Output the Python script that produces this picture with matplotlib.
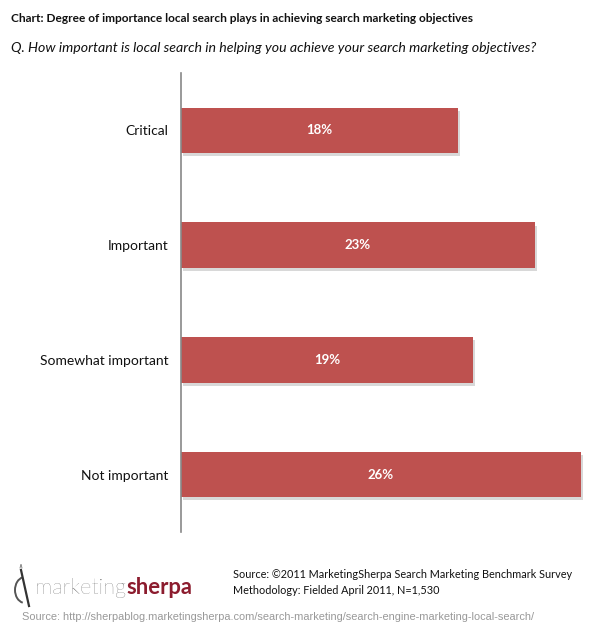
import matplotlib
matplotlib.use("Agg")
import matplotlib.pyplot as plt
import matplotlib.patheffects as pe
from matplotlib.patches import Arc

# data
categories = ["Critical", "Important", "Somewhat important", "Not important"]
shares = [18, 23, 19, 26]
bar_labels = ["18%", "23%", "19%", "26%"]

W, H = 603, 636
fig = plt.figure(figsize=(W / 100, H / 100), dpi=100)

# axes: vertical axis line at x=181, from y=73 to y=532 (pixel coords, top origin)
ax = fig.add_axes([181 / W, 1 - 532 / H, 409 / W, (532 - 73) / H])
bar_color = "#BE514F"
ypos = list(range(len(categories)))
bars = ax.barh(ypos, shares, height=0.395, color=bar_color, edgecolor="none")
for b in bars:
    b.set_path_effects([pe.SimplePatchShadow(offset=(1.2, -2.2), shadow_rgbFace="#909090", alpha=0.35),
                        pe.Normal()])

ax.set_ylim(3.5, -0.5)
ax.set_xlim(0, 26 * 409 / 400)
for s in ["top", "right", "bottom"]:
    ax.spines[s].set_visible(False)
ax.spines["left"].set_color("#888888")
ax.spines["left"].set_linewidth(1.2)
ax.set_xticks([])
ax.set_yticks(ypos)
ax.set_yticklabels(categories, fontfamily="Lato", fontsize=10, color="#111111")
ax.tick_params(axis="y", length=0, pad=9)

for b, lab in zip(bars, bar_labels):
    ax.text(b.get_width() / 2, b.get_y() + b.get_height() / 2, lab,
            ha="center", va="center", color="white", fontsize=9.5,
            fontweight="bold", fontfamily="Lato")

# title and question
fig.text(11 / W, 1 - 19 / H, "Chart: Degree of importance local search plays in achieving search marketing objectives",
         ha="left", va="center", fontfamily="Lato", fontweight="bold", fontsize=8.6, color="#111111")
fig.text(11 / W, 1 - 48 / H, "Q. How important is local search in helping you achieve your search marketing objectives?",
         ha="left", va="center", fontfamily="Lato", fontstyle="italic", fontsize=10.2, color="#111111")

# logo: "sherpa" placed right after "marketing"
t1 = fig.text(35 / W, 1 - 588 / H, "marketing", ha="left", va="center", fontfamily="Lato",
              fontweight="light", fontsize=15.8, color="#4a4a4a")
fig.canvas.draw()
x_end = t1.get_window_extent().x1
fig.text(x_end / W, 1 - 588 / H, "sherpa", ha="left", va="center", fontfamily="Lato",
         fontweight="bold", fontsize=15.8, color="#8C1C2E")
lax = fig.add_axes([12 / W, 1 - 608 / H, 24 / W, 44 / H])
lax.set_xlim(0, 24)
lax.set_ylim(0, 44)
lax.axis("off")
lax.add_patch(Arc((13, 18), 20, 26, theta1=100, theta2=260, color="#555555", lw=1.4))
lax.plot([9, 17], [38, 2], color="#333333", lw=1.6)
lax.plot([8, 9, 10], [40, 44, 40], color="#777777", lw=0.6)

# source block
fig.text(233 / W, 1 - 575 / H, "Source: \u00a92011 MarketingSherpa Search Marketing Benchmark Survey",
         ha="left", va="center", fontfamily="Lato", fontsize=7.85, color="#111111")
fig.text(233 / W, 1 - 590 / H, "Methodology: Fielded April 2011, N=1,530",
         ha="left", va="center", fontfamily="Lato", fontsize=7.85, color="#111111")
fig.text(22 / W, 1 - 617 / H,
         "Source: http://sherpablog.marketingsherpa.com/search-marketing/search-engine-marketing-local-search/",
         ha="left", va="center", fontfamily="Liberation Sans", fontsize=7.9, color="#999999")

fig.savefig("out.png", dpi=100)
